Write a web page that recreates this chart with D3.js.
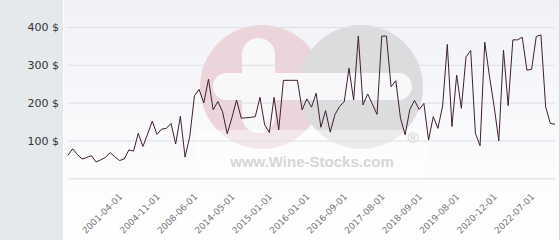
<!DOCTYPE html>
<html>
<head>
<meta charset="utf-8">
<script src="https://cdn.jsdelivr.net/npm/d3@7"></script>
<style>
  body { margin: 0; background: #fff; }
  svg { display: block; font-family: "DejaVu Sans", Verdana, sans-serif; }
</style>
</head>
<body>
<div id="chart"></div>
<script>
// prices, one per point
const prices = [
  61, 78, 63, 51, 55, 60, 43, 49, 55, 68,
  57, 47, 51, 75, 72, 119, 84, 117, 151, 116,
  130, 132, 145, 91, 164, 56, 110, 218, 235, 199,
  262, 181, 203, 176, 118, 160, 207, 159, 160, 161,
  163, 214, 141, 121, 214, 128, 259, 259, 259, 259,
  181, 210, 188, 225, 135, 179, 122, 168, 190, 203,
  291, 207, 376, 194, 223, 196, 169, 376, 376, 242,
  258, 159, 115, 182, 206, 182, 198, 101, 163, 132,
  191, 354, 137, 273, 185, 321, 338, 119, 86, 360,
  270, 190, 99, 339, 192, 366, 366, 373, 286, 288,
  375, 379, 189, 145, 143
];
// which points carry a date label, and the labels
const tickIndex = [11, 19, 27, 35, 43, 51, 59, 67, 75, 83, 91, 99];
const tickDates = ["2001-04-01", "2004-11-01", "2008-06-01", "2014-05-01",
  "2015-01-01", "2016-01-01", "2016-09-01", "2017-08-01",
  "2018-09-01", "2019-08-01", "2020-12-01", "2022-07-01"];
const yTicks = [0, 100, 200, 300, 400];

var W = 560, H = 240;
var plotL = 68, plotR = 555, plotT = 27, plotB = 178.3;

var svg = d3.select("#chart").append("svg")
  .attr("width", W).attr("height", H);

var defs = svg.append("defs");
var grad = defs.append("linearGradient").attr("id", "bg")
  .attr("x1", 0).attr("y1", 0).attr("x2", 0).attr("y2", 1);
grad.append("stop").attr("offset", "0%").attr("stop-color", "#f1f2f7");
grad.append("stop").attr("offset", "80%").attr("stop-color", "#fdfdfe");
grad.append("stop").attr("offset", "100%").attr("stop-color", "#ffffff");

svg.append("rect").attr("x", 63).attr("y", 0).attr("width", W - 63).attr("height", H)
  .attr("fill", "url(#bg)");
svg.append("rect").attr("x", 0).attr("y", 0).attr("width", 63).attr("height", H)
  .attr("fill", "#e5e9ec");
svg.append("line").attr("x1", 63.5).attr("x2", 63.5).attr("y1", 0).attr("y2", H)
  .attr("stroke", "#fff");
svg.append("line").attr("x1", 559.5).attr("x2", 559.5).attr("y1", 0).attr("y2", H)
  .attr("stroke", "#d8d8d8");

// watermark
var wm = svg.append("g");
wm.append("circle").attr("cx", 262).attr("cy", 87).attr("r", 62).attr("fill", "#ecd4db");
wm.append("circle").attr("cx", 361).attr("cy", 87).attr("r", 62).attr("fill", "#dcdcde");
wm.append("rect").attr("x", 213).attr("y", 73).attr("width", 199).attr("height", 27)
  .attr("rx", 13.5).attr("fill", "#f8f8fa");
wm.append("rect").attr("x", 242).attr("y", 38).attr("width", 33).attr("height", 95)
  .attr("rx", 16.5).attr("fill", "#f8f8fa");
wm.append("rect").attr("x", 197).attr("y", 130).attr("width", 230).attr("height", 48)
  .attr("fill", "#fff").attr("opacity", 0.45);
wm.append("text").attr("x", 312).attr("y", 167).attr("text-anchor", "middle")
  .style("font-family", "'Liberation Sans', Arial, sans-serif")
  .style("font-weight", "bold").style("font-size", "15px")
  .attr("fill", "#d6d6d8").text("www.Wine-Stocks.com");
wm.append("text").attr("x", 413).attr("y", 143).attr("text-anchor", "middle")
  .style("font-family", "'Liberation Sans', Arial, sans-serif")
  .style("font-size", "15px").attr("fill", "#cfcfd2").text("\u00ae");

var x = d3.scalePoint()
  .domain(d3.range(prices.length))
  .range([plotL, plotR]);

var y = d3.scaleLinear()
  .domain([0, 400])
  .range([plotB, plotT]);

// y axis + grid
var yAxis = svg.append("g")
  .attr("transform", "translate(" + plotL + ",0)")
  .call(d3.axisLeft(y).tickValues(yTicks).tickSize(-(plotR - plotL)).tickPadding(9)
    .tickFormat(function(d) { return d ? d + " $" : ""; }));
yAxis.select(".domain").remove();
yAxis.selectAll(".tick line").attr("stroke", "#dedfe2");
yAxis.selectAll(".tick text").attr("fill", "#333").style("font-size", "11px")
  .style("font-family", "'DejaVu Sans', Verdana, sans-serif");

// x axis labels
var xAxis = svg.append("g")
  .attr("transform", "translate(0," + plotB + ")")
  .call(d3.axisBottom(x).tickValues(tickIndex).tickSize(0)
    .tickFormat(function(d, i) { return tickDates[i]; }));
xAxis.select(".domain").remove();
xAxis.selectAll(".tick text")
  .attr("fill", "#777")
  .style("font-size", "9px")
  .style("font-family", "'DejaVu Sans', Verdana, sans-serif")
  .attr("text-anchor", "end")
  .attr("dy", null)
  .attr("y", 0)
  .attr("transform", "translate(3,19) rotate(-45)");

// price line
var line = d3.line()
  .x(function(d, i) { return x(i); })
  .y(function(d) { return y(d); });

svg.append("path")
  .datum(prices)
  .attr("fill", "none")
  .attr("stroke", "#3f1f2d")
  .attr("stroke-width", 1)
  .attr("stroke-linejoin", "round")
  .attr("d", line);
</script>
</body>
</html>
